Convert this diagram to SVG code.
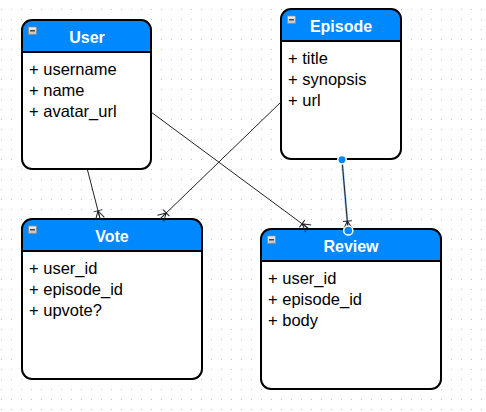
<svg xmlns="http://www.w3.org/2000/svg" width="486" height="412" viewBox="0 0 486 412">
  <defs>
    <pattern id="grid" width="10" height="10" patternUnits="userSpaceOnUse">
      <rect x="1" y="9" width="1" height="1" fill="#c4c4c4"/>
    </pattern>
    <marker id="many" viewBox="-11 -6 12 12" refX="0" refY="0" markerWidth="12" markerHeight="12" markerUnits="userSpaceOnUse" orient="auto">
      <path d="M-8,-4.5 V4.5 M-8,0 L0,-4.5 M-8,0 L0,4.5 M-8,0 H0" fill="none" stroke="#222" stroke-width="1"/>
    </marker>
    <linearGradient id="icon" x1="0" y1="0" x2="0" y2="1">
      <stop offset="0" stop-color="#f4f4f4"/>
      <stop offset="1" stop-color="#bdbdbd"/>
    </linearGradient>
  </defs>
  <style>
    .body { fill: #ffffff; }
    .head { fill: #0088ff; }
    .frame { fill: none; stroke: #000; stroke-width: 2; }
    .sep { stroke: #000; stroke-width: 2; }
    .title { font-family: "Liberation Sans", Arial, sans-serif; font-weight: bold; font-size: 16px; fill: #ffffff; text-anchor: middle; }
    .attr { font-family: "Liberation Sans", Arial, sans-serif; font-size: 16.5px; fill: #000; }
    .icon { fill: url(#icon); stroke: #8a8a8a; stroke-width: 0.8; }
    .minus { stroke: #222; stroke-width: 1.2; }
    .conn { fill: none; stroke: #222; stroke-width: 1; }
  </style>
  <rect width="486" height="412" fill="#ffffff"/>
  <rect width="486" height="412" fill="url(#grid)"/>

  <g id="user">
    <rect class="body" x="22" y="20" width="129" height="149" rx="10"/>
    <path class="head" d="M22,52 V30 A10,10 0 0 1 32,20 H141 A10,10 0 0 1 151,30 V52 Z"/>
    <line class="sep" x1="22" y1="52" x2="151" y2="52"/>
    <rect class="frame" x="22" y="20" width="129" height="149" rx="10"/>
    <rect class="icon" x="28.5" y="27" width="8" height="7.5"/>
    <line class="minus" x1="30" y1="30.8" x2="35" y2="30.8"/>
    <text class="title" x="87" y="42.5">User</text>
    <text class="attr" x="29" y="75">+ username</text>
    <text class="attr" x="29" y="96">+ name</text>
    <text class="attr" x="29" y="117">+ avatar_url</text>
  </g>

  <g id="episode">
    <rect class="body" x="281" y="9" width="120" height="150" rx="10"/>
    <path class="head" d="M281,41 V19 A10,10 0 0 1 291,9 H391 A10,10 0 0 1 401,19 V41 Z"/>
    <line class="sep" x1="281" y1="41" x2="401" y2="41"/>
    <rect class="frame" x="281" y="9" width="120" height="150" rx="10"/>
    <rect class="icon" x="287.5" y="16" width="8" height="7.5"/>
    <line class="minus" x1="289" y1="19.8" x2="294" y2="19.8"/>
    <text class="title" x="341" y="31.5">Episode</text>
    <text class="attr" x="288" y="63.5">+ title</text>
    <text class="attr" x="288" y="84.5">+ synopsis</text>
    <text class="attr" x="288" y="105.5">+ url</text>
  </g>

  <g id="vote">
    <rect class="body" x="22" y="219" width="180" height="160" rx="10"/>
    <path class="head" d="M22,251 V229 A10,10 0 0 1 32,219 H192 A10,10 0 0 1 202,229 V251 Z"/>
    <line class="sep" x1="22" y1="251" x2="202" y2="251"/>
    <rect class="frame" x="22" y="219" width="180" height="160" rx="10"/>
    <rect class="icon" x="28.5" y="226" width="8" height="7.5"/>
    <line class="minus" x1="30" y1="229.8" x2="35" y2="229.8"/>
    <text class="title" x="112" y="241.5">Vote</text>
    <text class="attr" x="29" y="273.5">+ user_id</text>
    <text class="attr" x="29" y="294.5">+ episode_id</text>
    <text class="attr" x="29" y="315.5">+ upvote?</text>
  </g>

  <g id="review">
    <rect class="body" x="261" y="229" width="180" height="160" rx="10"/>
    <path class="head" d="M261,261 V239 A10,10 0 0 1 271,229 H431 A10,10 0 0 1 441,239 V261 Z"/>
    <line class="sep" x1="261" y1="261" x2="441" y2="261"/>
    <rect class="frame" x="261" y="229" width="180" height="160" rx="10"/>
    <rect class="icon" x="267.5" y="236" width="8" height="7.5"/>
    <line class="minus" x1="269" y1="239.8" x2="274" y2="239.8"/>
    <text class="title" x="351" y="251.5">Review</text>
    <text class="attr" x="268" y="283.5">+ user_id</text>
    <text class="attr" x="268" y="304.5">+ episode_id</text>
    <text class="attr" x="268" y="325.5">+ body</text>
  </g>

  <g id="connectors">
    <line class="conn" x1="87.5" y1="170" x2="100" y2="218.5" marker-end="url(#many)"/>
    <line class="conn" x1="151" y1="112" x2="308.5" y2="228.5" marker-end="url(#many)"/>
    <line class="conn" x1="281" y1="102" x2="160.5" y2="218.5" marker-end="url(#many)"/>
    <line x1="342" y1="160" x2="348" y2="229" stroke="#3399ff" stroke-width="2.2" stroke-opacity="0.55"/>
    <line class="conn" x1="342" y1="160" x2="348" y2="229" marker-end="url(#many)"/>
    <circle cx="342" cy="159.8" r="4.2" fill="#0088ff" stroke="#ffffff" stroke-width="1.5"/>
    <circle cx="348.3" cy="230.5" r="4.6" fill="#0088ff" stroke="#ffffff" stroke-width="1.5"/>
  </g>
</svg>
